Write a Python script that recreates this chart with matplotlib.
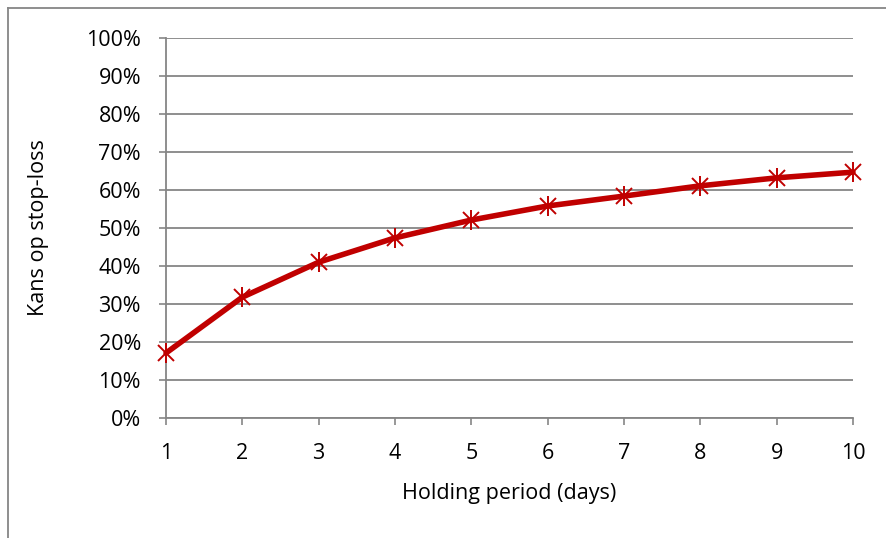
import matplotlib
matplotlib.use("Agg")
import matplotlib.pyplot as plt
from matplotlib.lines import Line2D
from matplotlib.ticker import FuncFormatter

days = [1, 2, 3, 4, 5, 6, 7, 8, 9, 10]
prob = [0.171, 0.318, 0.410, 0.474, 0.521, 0.558, 0.584, 0.611, 0.632, 0.647]
yticks = [i / 10 for i in range(11)]

plt.rcParams['font.family'] = ['Open Sans', 'DejaVu Sans']

fig = plt.figure(figsize=(8.86, 5.38), dpi=100)
W, H = 886, 538
ax = fig.add_axes([166 / W, 1 - 418 / H, (853 - 166) / W, (418 - 38) / H])

red = '#C00000'
grey = '#868686'
ax.plot(days, prob, color=red, lw=4.0, solid_capstyle='round', zorder=3, clip_on=False)
ax.plot(days, prob, ls='none', marker='x', ms=12, mew=1.4, color=red, zorder=4, clip_on=False)
ax.plot(days, prob, ls='none', marker='|', ms=15, mew=1.4, color=red, zorder=4, clip_on=False)

ax.set_xlim(1, 10)
ax.set_ylim(0, 1)
ax.set_xticks(days)
ax.set_yticks(yticks)
ax.yaxis.set_major_formatter(FuncFormatter(lambda v, p: f"{v*100:.0f}%"))
ax.grid(axis='y', color=grey, lw=1.3, zorder=1)
for s in ['top', 'right']:
    ax.spines[s].set_visible(False)
for s in ['left', 'bottom']:
    ax.spines[s].set_color(grey)
    ax.spines[s].set_linewidth(1.3)
ax.tick_params(axis='both', direction='out', length=5, width=1.2, color=grey,
               labelsize=15.5, labelcolor='black')
ax.tick_params(axis='y', pad=13)
ax.tick_params(axis='x', pad=13)
ax.set_xlabel('Holding period (days)', fontsize=15.5, labelpad=14)
ax.set_ylabel('Kans op stop-loss', fontsize=15.5, labelpad=27)
ax.set_axisbelow(True)

fig.add_artist(Line2D([8 / W, 1.0], [1 - 8 / H, 1 - 8 / H], color=grey, lw=1.3, transform=fig.transFigure))
fig.add_artist(Line2D([8 / W, 8 / W], [0, 1 - 8 / H], color=grey, lw=1.3, transform=fig.transFigure))

fig.savefig('out.png', dpi=100)
